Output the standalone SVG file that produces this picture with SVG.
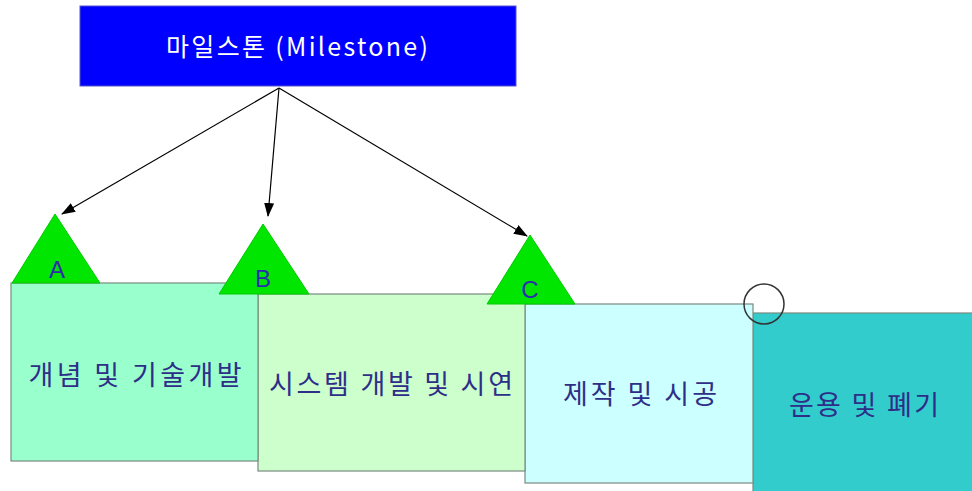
<svg xmlns="http://www.w3.org/2000/svg" width="972" height="491" viewBox="0 0 972 491">
<style>
.lbl{font-family:"Noto Sans CJK KR","Liberation Sans",sans-serif;font-size:27px;fill:#2E2E88;text-anchor:middle}
.tri{fill:#00E600;stroke:#00CC00;stroke-width:1}
.ltr{font-family:"Liberation Sans",sans-serif;font-size:24px;fill:#2B2BB0;text-anchor:middle}
.box{stroke:#7A8A80;stroke-width:1.2}
.conn{stroke:#000;stroke-width:1.2;fill:none;marker-end:url(#ah)}
</style>
<defs>
<marker id="ah" markerWidth="14" markerHeight="10" refX="13" refY="5" orient="auto" markerUnits="userSpaceOnUse">
<path d="M0,0 L14,5 L0,10 Z" fill="#000"/>
</marker>
</defs>
<rect width="972" height="491" fill="#fff"/>
<g id="phase4"><rect class="box" x="753" y="313" width="225" height="185" fill="#33CCCC"/><text class="lbl" x="864" y="415" textLength="150" lengthAdjust="spacing">운용 및 폐기</text></g>
<g id="phase3"><rect class="box" x="525" y="304" width="228" height="179" fill="#CCFFFF"/><text class="lbl" x="640" y="404" textLength="154" lengthAdjust="spacing">제작 및 시공</text></g>
<g id="phase2"><rect class="box" x="258" y="294" width="267" height="177" fill="#CCFFCC"/><text class="lbl" x="391" y="394" textLength="244" lengthAdjust="spacing">시스템 개발 및 시연</text></g>
<g id="phase1"><rect class="box" x="11" y="283" width="247" height="178" fill="#99FFCC"/><text class="lbl" x="135" y="385" textLength="213" lengthAdjust="spacing">개념 및 기술개발</text></g>
<g id="milestoneA"><polygon class="tri" points="55,214 12,283 100,283"/><text class="ltr" x="57" y="278">A</text></g>
<g id="milestoneB"><polygon class="tri" points="263,224 219,294 309,294"/><text class="ltr" x="263" y="287">B</text></g>
<g id="milestoneC"><polygon class="tri" points="530,235 487,304 575,304"/><text class="ltr" x="530" y="298">C</text></g>
<g id="transition"><circle cx="764" cy="304" r="20" fill="none" stroke="#333" stroke-width="1.5"/></g>
<g id="milestone"><rect x="80" y="6" width="436" height="80" fill="#0000FF" stroke="#5555CC" stroke-width="1"/><text x="297" y="56" font-family="Noto Sans CJK KR, Liberation Sans, sans-serif" font-size="25" fill="#fff" text-anchor="middle" textLength="262" lengthAdjust="spacing">마일스톤 (Milestone)</text></g>
<g id="connectors">
<line class="conn" x1="279" y1="88" x2="62" y2="214"/>
<line class="conn" x1="279" y1="88" x2="268" y2="216"/>
<line class="conn" x1="279" y1="88" x2="527" y2="236"/>
</g>
</svg>
